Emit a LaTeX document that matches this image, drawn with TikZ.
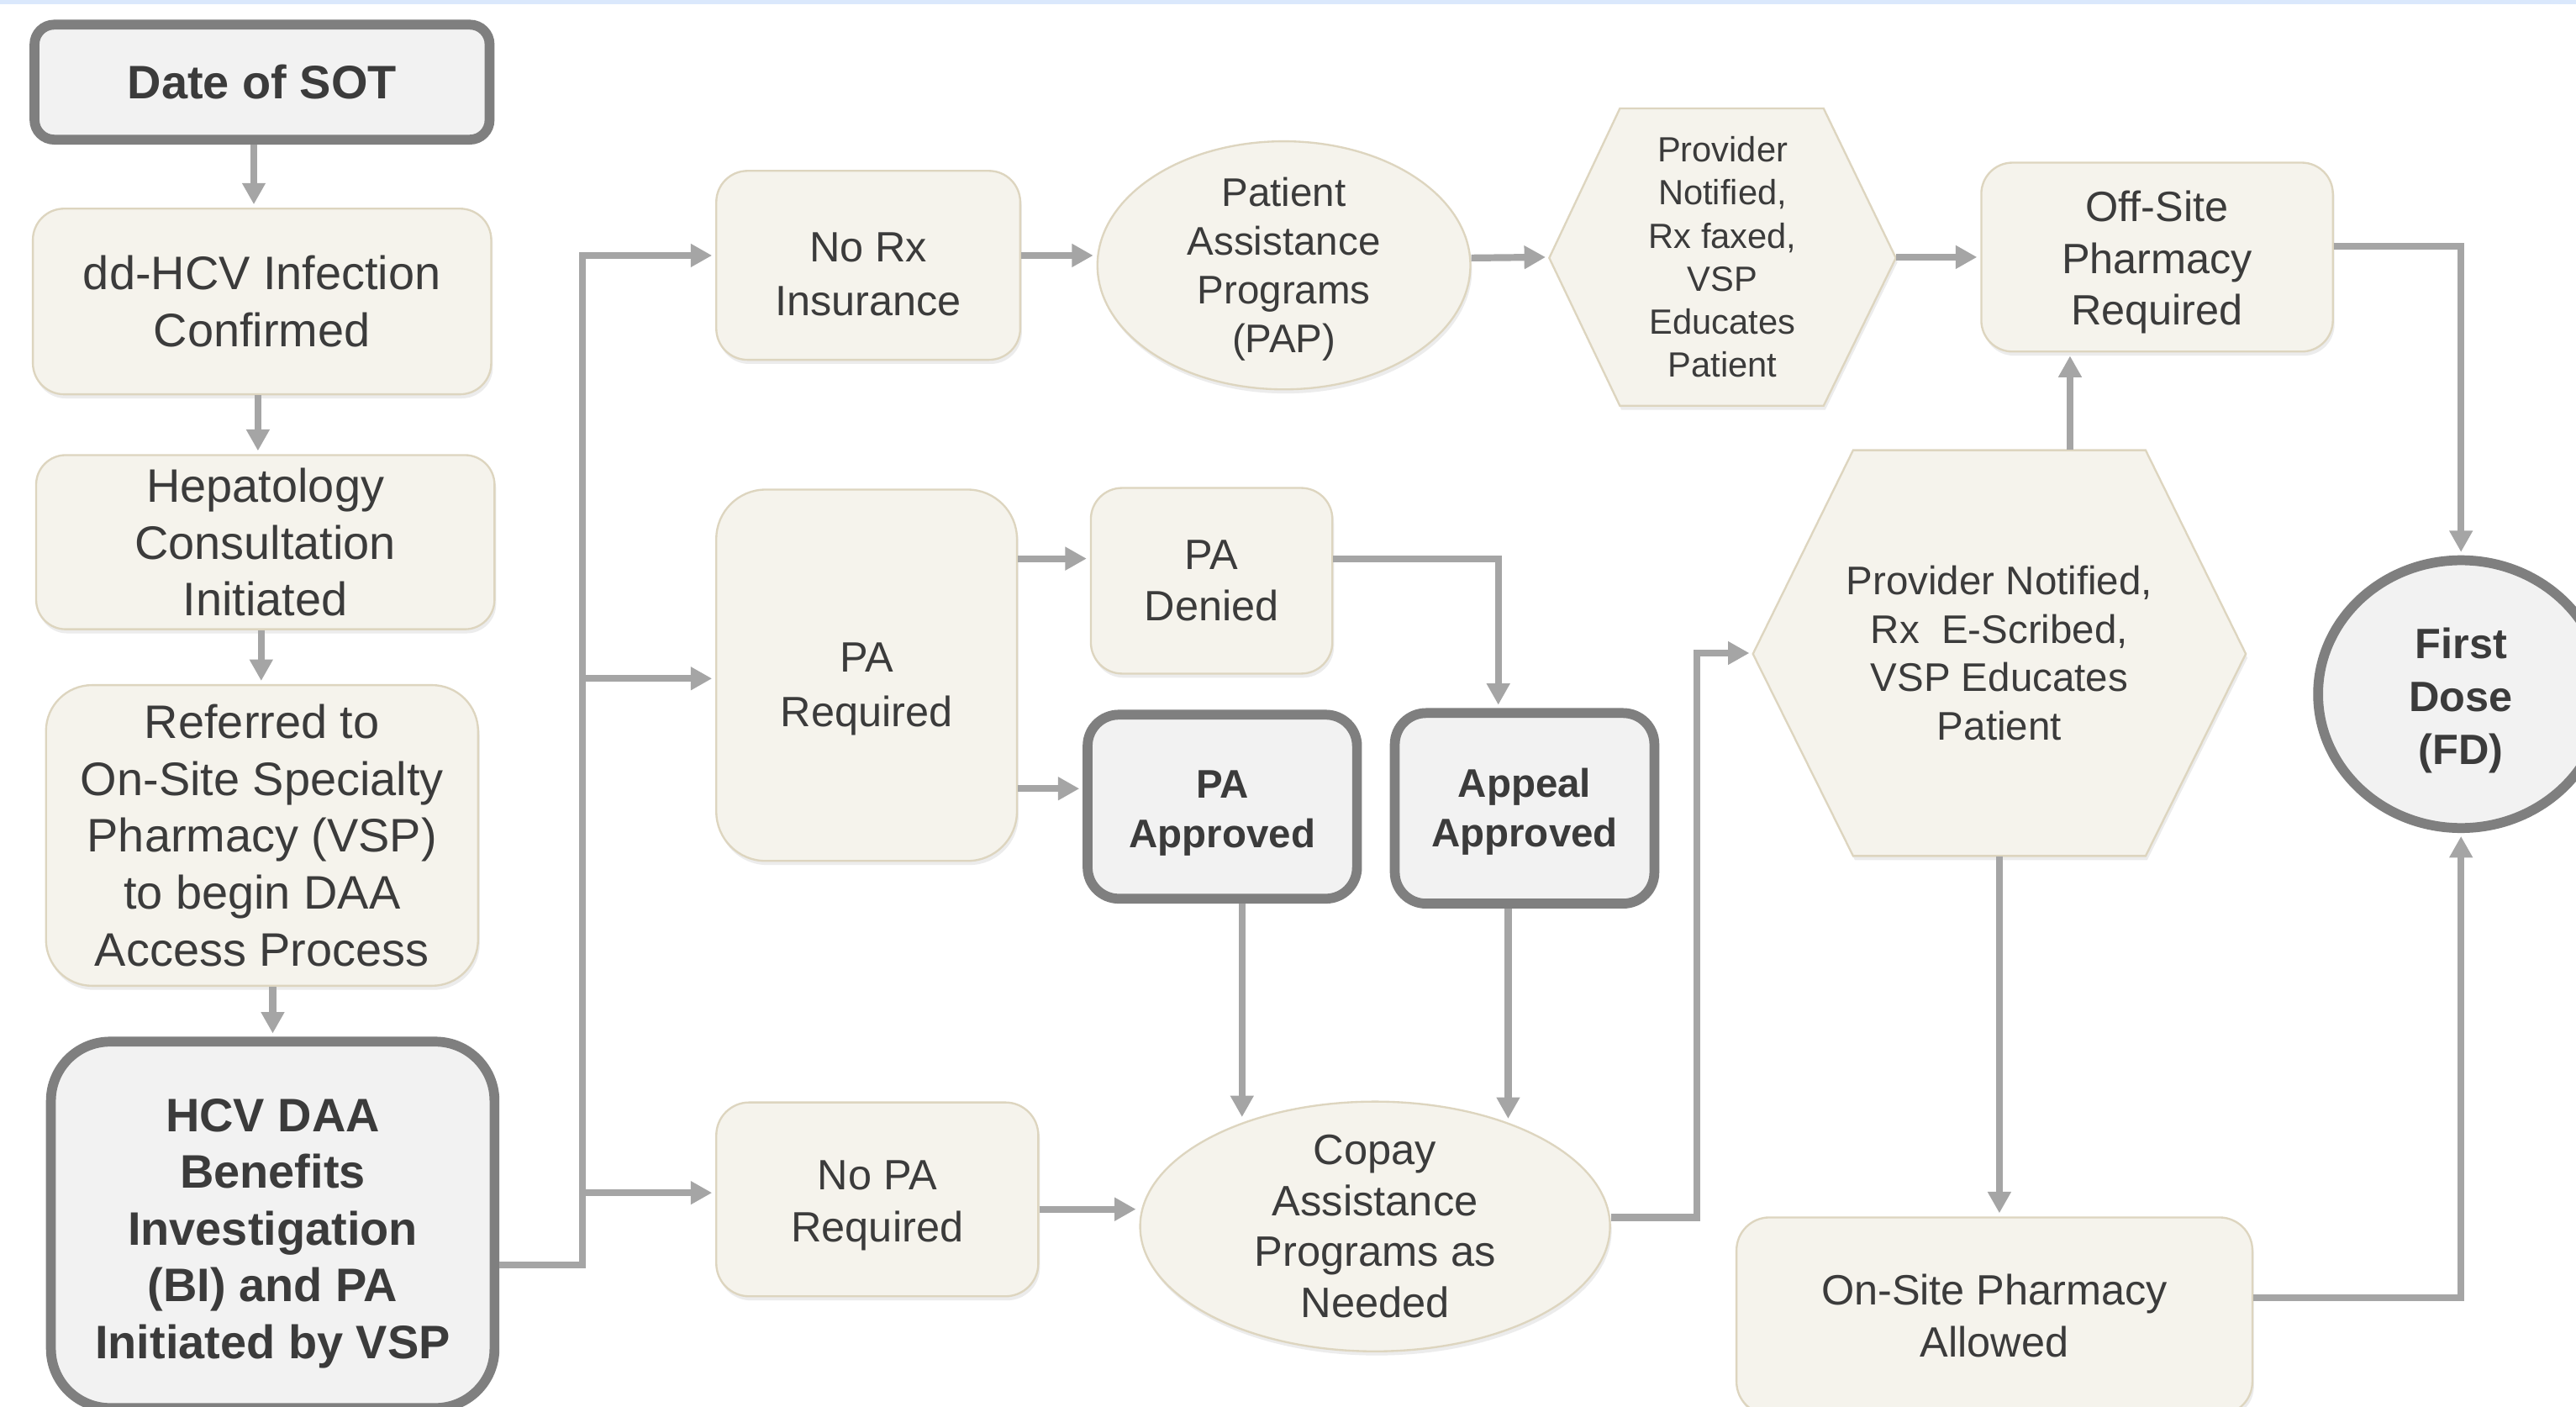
\documentclass[tikz,border=0pt]{standalone}
\usepackage{fontspec}
\setmainfont{Liberation Sans}
\usepackage{tikz}
\usetikzlibrary{arrows.meta,shadows,shapes.geometric}
\definecolor{cream}{HTML}{F5F3EC}
\definecolor{creamline}{HTML}{DDD5BF}
\definecolor{boxgray}{HTML}{7F7F7F}
\definecolor{lightfill}{HTML}{F2F2F2}
\definecolor{arrowgray}{HTML}{A5A5A5}
\definecolor{txtgray}{HTML}{3B3B3B}
\definecolor{topband}{HTML}{DAE8FC}
% invisible strut, pushes the text of a box down
\newcommand{\padtop}[1]{\rule{0pt}{#1}}

\begin{document}
\begin{tikzpicture}[x=1pt,y=-1pt,
    every node/.style={text=txtgray,align=center,inner sep=0pt},
    soft/.style={drop shadow={shadow xshift=1pt,shadow yshift=-2.5pt,opacity=0.15}},
    plain/.style={soft,fill=cream,draw=creamline,line width=1.2pt},
    heavy/.style={soft,fill=lightfill,draw=boxgray,line width=6pt},
    txtL/.style={font=\fontsize{28.6}{34.6}\selectfont},
    txtLB/.style={font=\fontsize{28.6}{34.6}\selectfont\bfseries},
    txtM/.style={font=\fontsize{25.8}{31.5}\selectfont},
    txtMB/.style={font=\fontsize{25.8}{32}\selectfont\bfseries},
    txtS/.style={font=\fontsize{24.3}{29.6}\selectfont},
    txtSB/.style={font=\fontsize{24.3}{30}\selectfont\bfseries},
    txtXS/.style={font=\fontsize{21.3}{26.2}\selectfont},
    flow/.style={draw=arrowgray,line width=4.2pt,shorten >=2pt,-{Triangle[length=13pt,width=13.5pt]}}]
    \useasboundingbox (0,0) rectangle (1568,856);
    \clip (0,0) rectangle (1568,856);
    \fill [white] (0,0) rectangle (1568,856);
    \fill [topband] (0,0) rectangle (1568,2.6);

    % left column
    \node [heavy,txtLB,rounded corners=12pt,minimum width=277pt,minimum height=70pt] (sot) at (159.5,50) {Date of SOT};
    \node [plain,txtL,rounded corners=19pt,minimum width=279pt,minimum height=113pt] (inf) at (159.5,183.5) {dd-HCV Infection\\Confirmed};
    \node [plain,txtL,rounded corners=18pt,minimum width=279pt,minimum height=106pt] (hep) at (161.5,330) {Hepatology\\Consultation\\Initiated};
    \node [plain,txtL,rounded corners=28pt,minimum width=263pt,minimum height=183pt] (ref) at (159.5,508.5) {Referred to\\On-Site Specialty\\Pharmacy (VSP)\\to begin DAA\\Access Process};
    \node [heavy,txtLB,rounded corners=36pt,minimum width=270pt,minimum height=223pt] (bi) at (166,745.5) {\padtop{30.5pt}HCV DAA\\Benefits\\Investigation\\(BI) and PA\\Initiated by VSP};

    % benefits branches
    \node [plain,font=\fontsize{25.8}{33}\selectfont,rounded corners=19pt,minimum width=185pt,minimum height=115pt] (norx) at (528.5,161.5) {\padtop{28.5pt}No Rx\\Insurance};
    \node [plain,font=\fontsize{25.8}{33}\selectfont,rounded corners=30pt,minimum width=183pt,minimum height=226pt] (pareq) at (527.5,411) {\padtop{34.5pt}PA\\Required};
    \node [plain,txtM,rounded corners=20pt,minimum width=196pt,minimum height=118pt] (nopa) at (534,730) {\padtop{25.5pt}No PA\\Required};
    \node [plain,txtS,ellipse,inner sep=-8pt,minimum width=227pt,minimum height=151pt] (pap) at (781.5,161.5) {\padtop{22.5pt}Patient\\Assistance\\Programs\\(PAP)};
    \node [plain,txtM,rounded corners=19pt,minimum width=147pt,minimum height=113pt] (padenied) at (737.5,353.5) {PA\\Denied};
    \node [heavy,txtSB,rounded corners=19pt,minimum width=164pt,minimum height=112pt] (paapp) at (744,491) {\padtop{24.5pt}PA\\Approved};
    \node [heavy,txtSB,rounded corners=19pt,minimum width=158pt,minimum height=116pt] (appeal) at (928,492) {\padtop{21.5pt}Appeal\\Approved};
    \node [plain,font=\fontsize{25.9}{31}\selectfont,ellipse,inner sep=-8pt,minimum width=286pt,minimum height=152pt] (copay) at (837,746.5) {Copay\\Assistance\\Programs as\\Needed};

    % pharmacy side
    \path [plain] (943,157) -- (986,66) -- (1110,66) -- (1154,157) -- (1110,247) -- (986,247) -- cycle;
    \node [txtXS,minimum width=211pt,minimum height=181pt] (hexa) at (1048.5,156.5) {Provider\\Notified,\\Rx faxed,\\VSP\\Educates\\Patient};
    \path [plain] (1067,398) -- (1128,274) -- (1306,274) -- (1367,398) -- (1306,521) -- (1128,521) -- cycle;
    \node [txtS,minimum width=300pt,minimum height=247pt] (hexb) at (1217,397.5) {Provider Notified,\\Rx~ E-Scribed,\\VSP Educates\\Patient};
    \node [plain,txtM,rounded corners=19pt,minimum width=214pt,minimum height=115pt] (offsite) at (1313,156.5) {\padtop{25pt}Off-Site\\Pharmacy\\Required};
    \node [plain,txtM,rounded corners=20pt,minimum width=314pt,minimum height=120pt] (onsite) at (1214,801) {On-Site Pharmacy\\Allowed};
    \node [heavy,txtMB,ellipse,inner sep=-8pt,minimum width=174pt,minimum height=163pt] (fd) at (1498,422.5) {\padtop{26.5pt}First\\Dose\\(FD)};

    % connectors
    \draw [flow] ([xshift=-5pt]sot.south) -- ([xshift=-5pt]sot.south |- inf.north);
    \draw [flow] ([xshift=-2.5pt]inf.south) -- ([xshift=-2.5pt]inf.south |- hep.north);
    \draw [flow] ([xshift=-2.5pt]hep.south) -- ([xshift=-2.5pt]hep.south |- ref.north);
    \draw [flow] (ref.south -| bi.north) -- (bi.north);
    \draw [flow] ([yshift=-24.5pt]bi.east) -| ([xshift=-81pt,yshift=6pt]norx.west) -- ([yshift=6pt]norx.west);
    \draw [flow] ([xshift=-81pt,yshift=-2pt]pareq.west) -- ([yshift=-2pt]pareq.west);
    \draw [flow] ([xshift=-81pt,yshift=4pt]nopa.west) -- ([yshift=4pt]nopa.west);
    \draw [flow] ([yshift=6pt]norx.east) -- ([yshift=6pt]norx.east -| pap.west);
    \draw [flow] ([yshift=4.5pt]pap.east) -- (hexa.west);
    \draw [flow] (hexa.east) -- (offsite.west);
    \draw [flow] ([yshift=6.5pt]offsite.east) -| (fd.north);
    \draw [flow] ([yshift=71pt]pareq.east) -- ([yshift=13.5pt]padenied.west);
    \draw [flow] ([yshift=-69pt]pareq.east) -- ([yshift=11pt]paapp.west);
    \draw [flow] ([yshift=13.5pt]padenied.east) -| ([xshift=-16pt]appeal.north);
    \draw [flow] ([xshift=12pt]paapp.south) -- ([xshift=-81pt,yshift=-12pt]copay.north);
    \draw [flow] ([xshift=-10pt]appeal.south) -- ([xshift=81pt,yshift=-13pt]copay.north);
    \draw [flow] ([yshift=-6pt]nopa.east) -- ([yshift=10.5pt]copay.west);
    \draw [flow] ([yshift=5.5pt]copay.east) -| ([xshift=-34pt]hexb.west) -- (hexb.west);
    \draw [flow] ([xshift=43pt]hexb.north) -- ([xshift=-53pt]offsite.south);
    \draw [flow] (hexb.south) -- (hexb.south |- onsite.north);
    \draw [flow] ([yshift=11pt]onsite.east) -| (fd.south);
\end{tikzpicture}
\end{document}
